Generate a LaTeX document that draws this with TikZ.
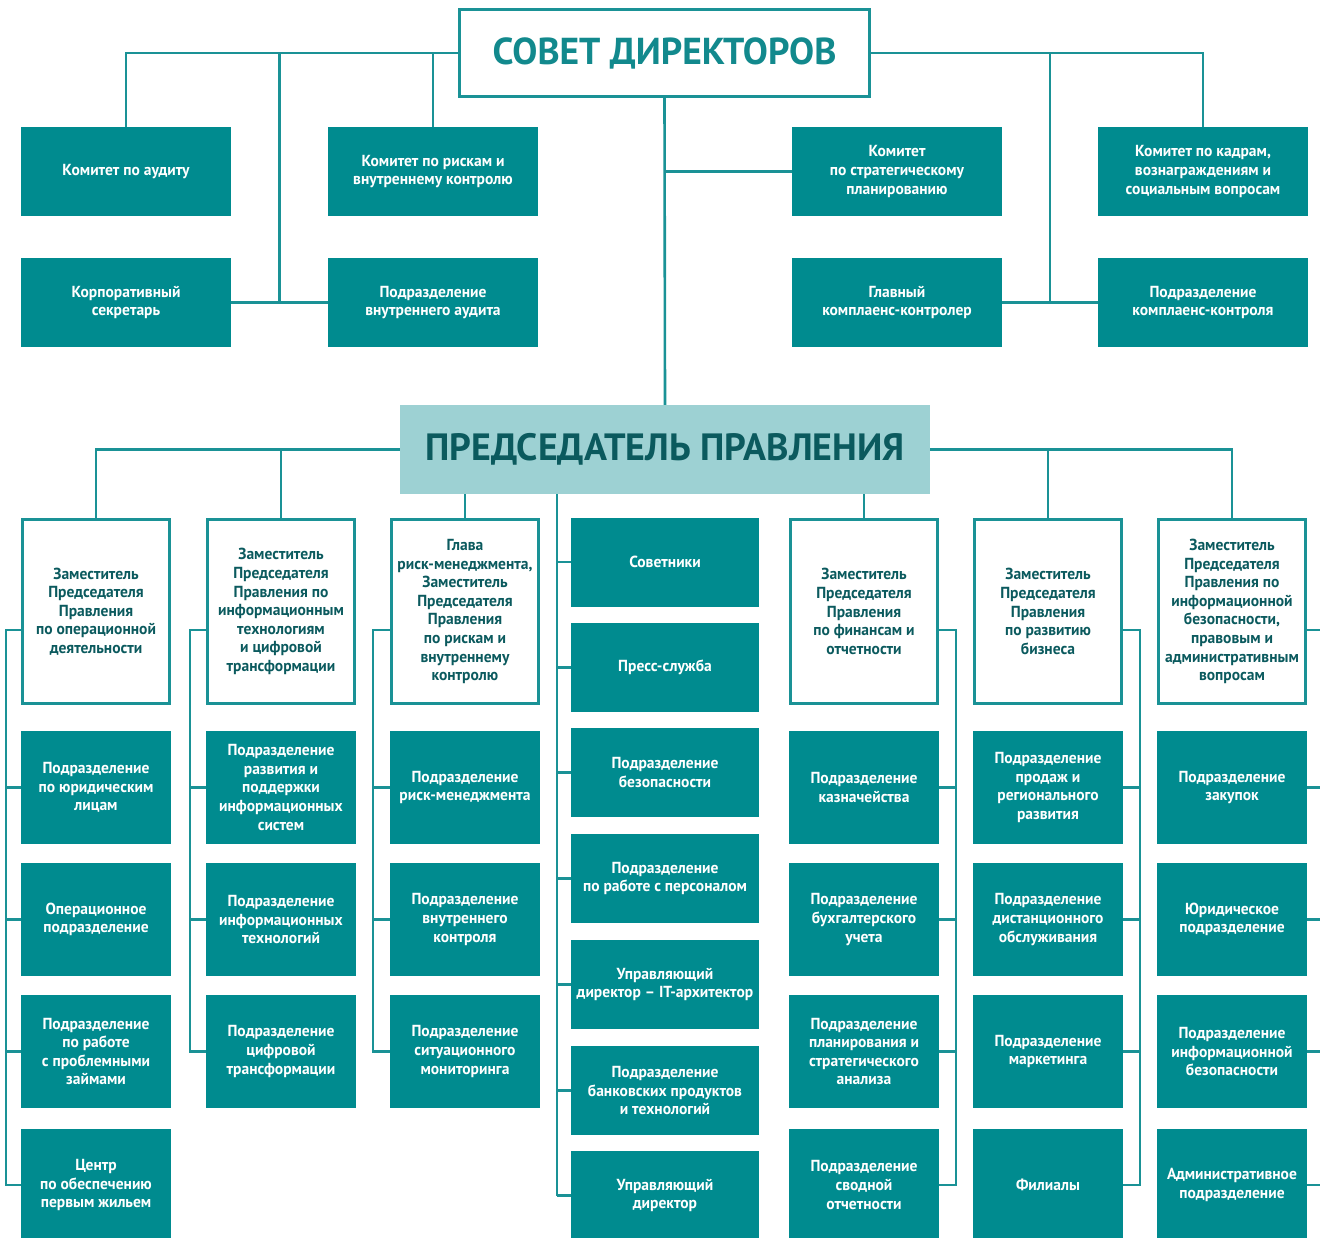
\documentclass[tikz,border=0pt]{standalone}
\usepackage{fontspec}
\setmainfont{PT Sans}
\newfontfamily\boxfont[FakeStretch=0.97]{PT Sans}
\usetikzlibrary{calc}
\definecolor{teal1}{HTML}{008B8F}
\definecolor{line1}{HTML}{1A9296}
\definecolor{light1}{HTML}{9DD1D3}
\definecolor{dark1}{HTML}{0B5A5E}
\definecolor{title1}{HTML}{12898D}
\begin{document}
\begin{tikzpicture}[x=1pt,y=-1pt,
  conn/.style={draw=line1, line width=2.6pt},
  txt/.style={inner sep=0pt, outer sep=0pt, align=center, font=\boxfont\bfseries\fontsize{16}{18.6}\selectfont},
  tbox/.style={txt, fill=teal1, text=white, minimum width=210pt, minimum height=89pt},
  mbox/.style={txt, fill=teal1, text=white, minimum width=188pt, minimum height=89pt},
  sbox/.style={txt, fill=teal1, text=white, minimum width=150pt, minimum height=113pt},
  dbox/.style={txt, draw=line1, line width=2.8pt, fill=white, text=dark1, minimum width=147.2pt, minimum height=184.2pt},
]
\fill[white] (0,0) rectangle (1320,1237);
\useasboundingbox (0,0) rectangle (1320,1237);

% ---- top level
\node[draw=line1, line width=3pt, fill=white, minimum width=410pt, minimum height=87pt, inner sep=0pt,
  text=title1, font=\bfseries\fontsize{37.5}{40}\selectfont] (sovet) at (664.5,53) {СОВЕТ ДИРЕКТОРОВ};

\node[tbox] (kaud) at (126,171.5) {Комитет по аудиту};
\node[tbox] (krisk) at (433,171.5) {Комитет по рискам и\\внутреннему контролю};
\node[tbox] (kstrat) at (897,171.5) {Комитет\\по стратегическому\\планированию};
\node[tbox] (kkadr) at (1203,171.5) {Комитет по кадрам,\\вознаграждениям и\\социальным вопросам};
\node[tbox] (ksec) at (126,302.5) {Корпоративный\\секретарь};
\node[tbox] (vaud) at (433,302.5) {Подразделение\\внутреннего аудита};
\node[tbox] (glav) at (897,302.5) {Главный\\комплаенс-контролер};
\node[tbox] (pkk) at (1203,302.5) {Подразделение\\комплаенс-контроля};

\node[fill=light1, minimum width=530pt, minimum height=89pt, inner sep=0pt,
  text=dark1, font=\bfseries\fontsize{38}{40}\selectfont] (pred) at (665,449.5) {ПРЕДСЕДАТЕЛЬ ПРАВЛЕНИЯ};

% ---- deputies
\node[dbox] (d1) at (96,611.5) {Заместитель\\Председателя\\Правления\\по операционной\\деятельности};
\node[dbox] (d2) at (281,611.5) {Заместитель\\Председателя\\Правления по\\информационным\\технологиям\\и цифровой\\трансформации};
\node[dbox] (d3) at (465,611.5) {Глава\\риск-менеджмента,\\Заместитель\\Председателя\\Правления\\по рискам и\\внутреннему\\контролю};
\node[dbox] (d5) at (864,611.5) {Заместитель\\Председателя\\Правления\\по финансам и\\отчетности};
\node[dbox] (d6) at (1048,611.5) {Заместитель\\Председателя\\Правления\\по развитию\\бизнеса};
\node[dbox] (d7) at (1232,611.5) {Заместитель\\Председателя\\Правления по\\информационной\\безопасности,\\правовым и\\административным\\вопросам};

% ---- middle column
\node[mbox] (m1) at (665,562) {Советники};
\node[mbox] (m2) at (665,667.5) {Пресс-служба};
\node[mbox] (m3) at (665,772.5) {Подразделение\\безопасности};
\node[mbox] (m4) at (665,878.5) {Подразделение\\по работе с персоналом};
\node[mbox] (m5) at (665,984.5) {Управляющий\\директор – IT-архитектор};
\node[mbox] (m6) at (665,1090.5) {Подразделение\\банковских продуктов\\и технологий};
\node[mbox] (m7) at (665,1195.5) {Управляющий\\директор};

% ---- sub units
\node[sbox] (s11) at (96,787.5) {Подразделение\\по юридическим\\лицам};
\node[sbox] (s12) at (96,919.5) {Операционное\\подразделение};
\node[sbox] (s13) at (96,1051.5) {Подразделение\\по работе\\с проблемными\\займами};
\node[sbox] (s14) at (96,1185) {Центр\\по обеспечению\\первым жильем};

\node[sbox] (s21) at (281,787.5) {Подразделение\\развития и\\поддержки\\информационных\\систем};
\node[sbox] (s22) at (281,919.5) {Подразделение\\информационных\\технологий};
\node[sbox] (s23) at (281,1051.5) {Подразделение\\цифровой\\трансформации};

\node[sbox] (s31) at (465,787.5) {Подразделение\\риск-менеджмента};
\node[sbox] (s32) at (465,919.5) {Подразделение\\внутреннего\\контроля};
\node[sbox] (s33) at (465,1051.5) {Подразделение\\ситуационного\\мониторинга};

\node[sbox] (s51) at (864,787.5) {Подразделение\\казначейства};
\node[sbox] (s52) at (864,919.5) {Подразделение\\бухгалтерского\\учета};
\node[sbox] (s53) at (864,1051.5) {Подразделение\\планирования и\\стратегического\\анализа};
\node[sbox] (s54) at (864,1185) {Подразделение\\сводной\\отчетности};

\node[sbox] (s61) at (1048,787.5) {Подразделение\\продаж и\\регионального\\развития};
\node[sbox] (s62) at (1048,919.5) {Подразделение\\дистанционного\\обслуживания};
\node[sbox] (s63) at (1048,1051.5) {Подразделение\\маркетинга};
\node[sbox] (s64) at (1048,1185) {Филиалы};

\node[sbox] (s71) at (1232,787.5) {Подразделение\\закупок};
\node[sbox] (s72) at (1232,919.5) {Юридическое\\подразделение};
\node[sbox] (s73) at (1232,1051.5) {Подразделение\\информационной\\безопасности};
\node[sbox] (s74) at (1232,1185) {Административное\\подразделение};

% ---- connectors, board level
\coordinate (jl) at ($(ksec.east)!0.5!(vaud.west)$);
\coordinate (jr) at ($(glav.east)!0.5!(pkk.west)$);
\draw[conn] (sovet.west) -| (kaud.north);
\draw[conn] (sovet.west -| krisk.north) -- (krisk.north);
\draw[conn] (sovet.west -| jl) -- (jl);
\draw[conn] (ksec.east) -- (vaud.west);
\draw[conn] (sovet.east) -| (kkadr.north);
\draw[conn] (sovet.east -| jr) -- (jr);
\draw[conn] (glav.east) -- (pkk.west);
\draw[conn] (sovet.south) -- (pred.north);
\draw[conn] (sovet.south |- kstrat.west) -- (kstrat.west);

% ---- connectors, chairman level
\draw[conn] (pred.west) -| (d1.north);
\draw[conn] (pred.west -| d2.north) -- (d2.north);
\draw[conn] (pred.south -| d3.north) -- (d3.north);
\draw[conn] (pred.south -| d5.north) -- (d5.north);
\draw[conn] (pred.east) -| (d7.north);
\draw[conn] (pred.east -| d6.north) -- (d6.north);

\coordinate (ms) at (557,0);
\draw[conn] (pred.south -| ms) -- (ms |- m7.west);
\foreach \m in {m1,m2,m3,m4,m5,m6,m7} \draw[conn] (ms |- \m.west) -- (\m.west);

% ---- connectors, deputy level (left-side spines)
\coordinate (sp1) at (6,0);
\coordinate (sp2) at (190,0);
\coordinate (sp3) at (373,0);
\draw[conn] ([yshift=-18.5pt]d1.west) -| (sp1 |- s14.west) -- (s14.west);
\foreach \s in {s11,s12,s13} \draw[conn] (sp1 |- \s.west) -- (\s.west);
\draw[conn] ([yshift=-18.5pt]d2.west) -| (sp2 |- s23.west) -- (s23.west);
\foreach \s in {s21,s22} \draw[conn] (sp2 |- \s.west) -- (\s.west);
\draw[conn] ([yshift=-18.5pt]d3.west) -| (sp3 |- s33.west) -- (s33.west);
\foreach \s in {s31,s32} \draw[conn] (sp3 |- \s.west) -- (\s.west);

% ---- right-side spines
\coordinate (sp5) at (956,0);
\coordinate (sp6) at (1140,0);
\coordinate (sp7) at (1326,0);
\draw[conn] ([yshift=-18.5pt]d5.east) -| (sp5 |- s54.east) -- (s54.east);
\foreach \s in {s51,s52,s53} \draw[conn] (sp5 |- \s.east) -- (\s.east);
\draw[conn] ([yshift=-18.5pt]d6.east) -| (sp6 |- s64.east) -- (s64.east);
\foreach \s in {s61,s62,s63} \draw[conn] (sp6 |- \s.east) -- (\s.east);
\draw[conn] ([yshift=-18.5pt]d7.east) -| (sp7 |- s74.east) -- (s74.east);
\foreach \s in {s71,s72,s73} \draw[conn] (sp7 |- \s.east) -- (\s.east);
\end{tikzpicture}
\end{document}
